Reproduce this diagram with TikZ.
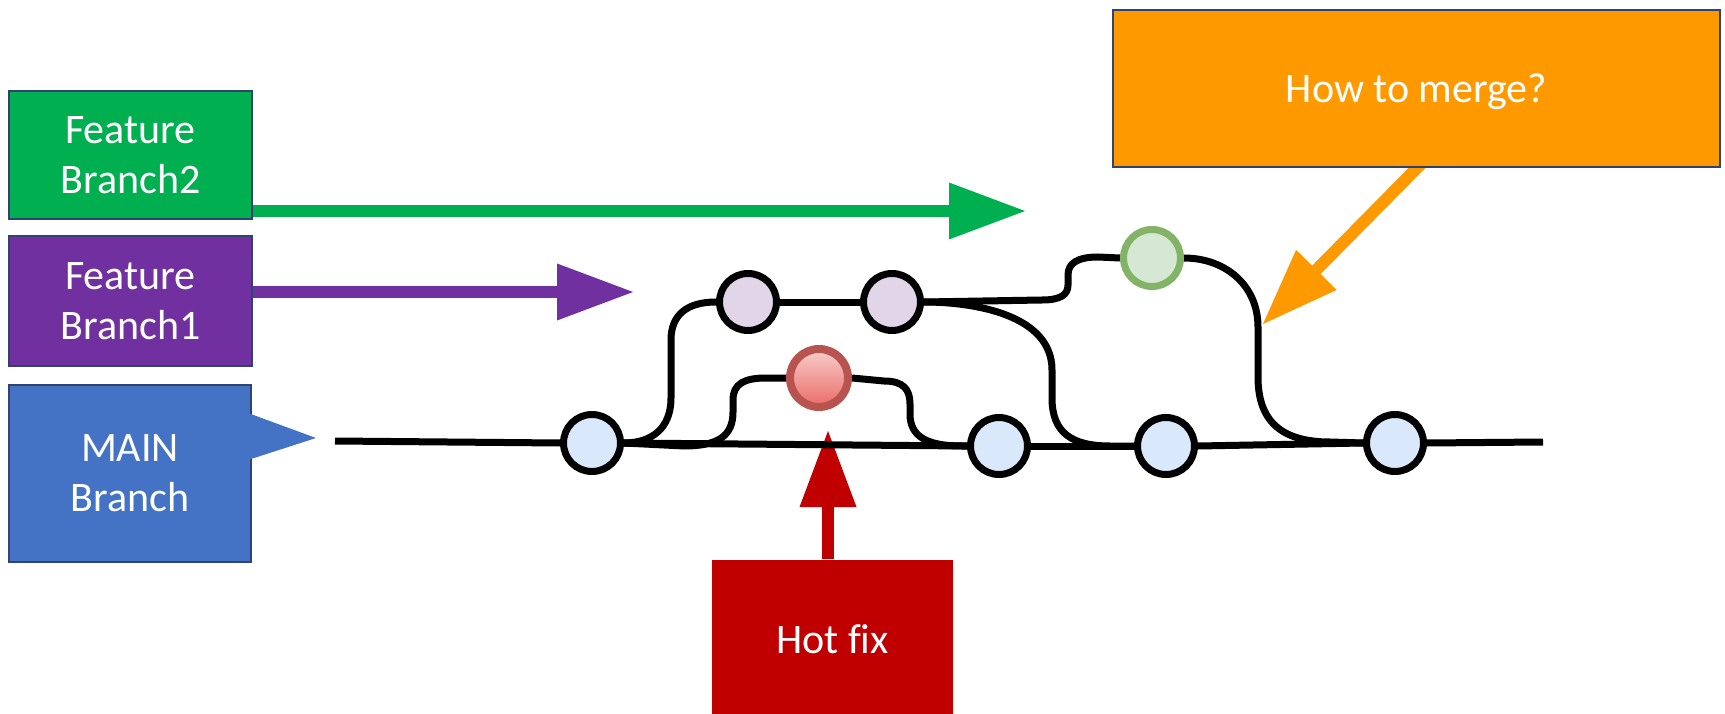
\documentclass[tikz,border=0pt]{standalone}
\usepackage{fontspec}
\setmainfont{Carlito}[Ligatures=NoCommon]
\usetikzlibrary{arrows.meta,backgrounds,calc}

\definecolor{fbgreen}{HTML}{00B050}
\definecolor{fbpurple}{HTML}{7030A0}
\definecolor{mainblue}{HTML}{4472C4}
\definecolor{mergeorange}{HTML}{FF9900}
\definecolor{fixred}{HTML}{C00000}
\definecolor{boxedge}{HTML}{2F4270}
\definecolor{cblue}{HTML}{DAE8FC}
\definecolor{cpurple}{HTML}{E1D5E7}
\definecolor{cgreenfill}{HTML}{D5E8D4}
\definecolor{cgreenedge}{HTML}{82B366}
\definecolor{credtop}{HTML}{F8CECC}
\definecolor{credbottom}{HTML}{EA6B66}
\definecolor{crededge}{HTML}{B85450}

\begin{document}
\begin{tikzpicture}[x=1pt,y=-1pt,
  label box/.style={rectangle, draw=boxedge, line width=2.5pt, text=white,
    align=center, inner sep=0pt, font=\fontsize{42}{50}\selectfont},
  commit/.style={circle, draw=black, line width=7pt, minimum size=57pt, inner sep=0pt},
  branch line/.style={line width=7pt, draw=black},
  pointer arrow/.style={line width=12pt,
    -{Triangle[length=76pt,width=57pt,line width=0pt]}},
]
\useasboundingbox (0,0) rectangle (1725,714);

% label boxes
\node[label box, fill=fbgreen, minimum width=243pt, minimum height=128pt] (fb2) at (130.5,155) {Feature\\Branch2};
\node[label box, fill=fbpurple, minimum width=243pt, minimum height=130pt] (fb1) at (130.5,301) {Feature\\Branch1};
\node[label box, fill=mainblue, minimum width=242pt, minimum height=177pt] (mainbox) at (130,473.5) {MAIN\\Branch};
\fill[mainblue] (248,413) -- (316,438) -- (248,460) -- cycle;
\node[label box, draw=none, fill=fixred, minimum width=241pt, minimum height=158pt] (fixbox) at (832.5,639) {Hot fix};
\node[label box, fill=mergeorange, minimum width=607pt, minimum height=157pt, text depth=0pt] (mergebox) at (1416.5,88.5) {How to merge?};

% commits
\node[commit, fill=cblue] (m1) at (592,443) {};
\node[commit, fill=cblue] (m2) at (999,446) {};
\node[commit, fill=cblue] (m3) at (1166,446) {};
\node[commit, fill=cblue] (m4) at (1395,443) {};
\node[commit, fill=cpurple] (p1) at (748,302) {};
\node[commit, fill=cpurple] (p2) at (892,302) {};
\node[commit, draw=crededge, line width=8pt, minimum size=58pt,
      top color=credtop, bottom color=credbottom] (h) at (819,378) {};
\node[commit, draw=cgreenedge, fill=cgreenfill] (g) at (1152,258) {};

\coordinate (mainstart) at (335,441);
\coordinate (mainend) at (1543,442);
\coordinate (tipfb2) at (1025,211);
\coordinate (tipfb1) at (633,292);
\coordinate (tipfix) at (828,431);
\coordinate (tipmerge) at (1263,324);

\begin{scope}[on background layer]
  \fill[white] (0,0) rectangle (1725,714);

  % pointer arrows from the label boxes
  \draw[pointer arrow, fbgreen] (fb2.east |- tipfb2) -- (tipfb2);
  \draw[pointer arrow, fbpurple] (fb1.east |- tipfb1) -- (tipfb1);
  \draw[pointer arrow, fixred] (tipfix |- fixbox.north) -- (tipfix);
  \draw[pointer arrow, mergeorange] ($(mergebox.south)+(8,-8)$) -- (tipmerge);

  % main branch
  \draw[branch line] (mainstart) -- (m1.west);
  \draw[branch line] (m1.east) -- (m2.west);
  \draw[branch line] (m2.east) -- (m3.west);
  \draw[branch line] (m3.east) -- (m4.west);
  \draw[branch line] (m4.east) -- (mainend);

  % feature branch 1
  \draw[branch line] (m1.east) .. controls (652,443) and (671,428) .. (671,398)
    -- (671,340) .. controls (671,314) and (688,302) .. (p1.west);
  \draw[branch line] (p1.east) -- (p2.west);
  \draw[branch line] (p2.east) .. controls (975,302) and (1052,315) .. (1052,370)
    -- (1052,398) .. controls (1052,433) and (1072,446) .. (1110,446) -- (m3.west);

  % hot fix
  \draw[branch line] (m1.east) -- (684,446) .. controls (718,446) and (733,436) .. (733,412)
    -- (733,400) .. controls (733,384) and (744,378) .. (766,378) -- (h.west);
  \draw[branch line] (h.east) -- (884,381) .. controls (903,381) and (910,389) .. (910,404)
    -- (910,414) .. controls (910,436) and (926,446) .. (962,446) -- (m2.west);

  % feature branch 2
  \draw[branch line] (p2.east) -- (1042,300) .. controls (1060,300) and (1068,295) .. (1068,285)
    -- (1068,275) .. controls (1068,263) and (1078,257) .. (1098,257) -- (g.west);
  \draw[branch line] (g.east) .. controls (1225,258) and (1258,285) .. (1258,327)
    -- (1258,377) .. controls (1258,420) and (1280,442) .. (1330,442) -- (m4.west);
\end{scope}
\end{tikzpicture}
\end{document}
